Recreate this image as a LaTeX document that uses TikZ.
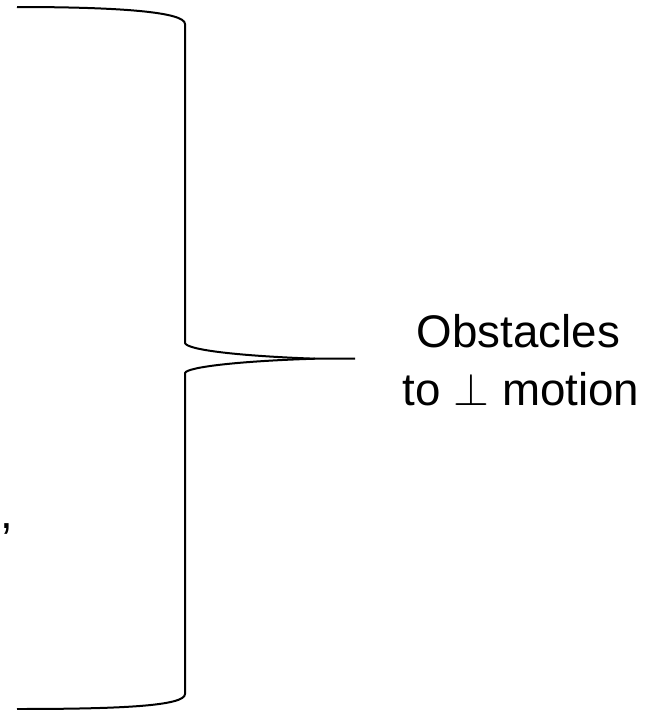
\documentclass[tikz,border=0pt]{standalone}
\usepackage{fontspec}
\setmainfont{Liberation Sans}
\begin{document}
\begin{tikzpicture}[x=1pt,y=-1pt,
  bracestyle/.style={line width=2pt, line join=round},
  lbl/.style={font=\fontsize{45.7}{58}\selectfont, inner sep=0pt, anchor=base}]
\useasboundingbox (0,0) rectangle (645,710);
\coordinate (topend) at (17,7);
\coordinate (topcorner) at (185,24);
\coordinate (upcorner) at (185,343);
\coordinate (meet) at (315,358.7);
\coordinate (tip) at (355,358.7);
\coordinate (lowcorner) at (185,373);
\coordinate (botcorner) at (185,694);
\coordinate (botend) at (17,709);
\draw[bracestyle] (topend) .. controls (120,7) and (185,12) .. (topcorner)
  -- (upcorner) .. controls (187,350) and (240,356) .. (meet) -- (tip);
\draw[bracestyle] (meet) .. controls (240,361) and (187,367) .. (lowcorner)
  -- (botcorner) .. controls (185,706) and (120,709) .. (botend);
\node[lbl] (l1) at (518.5,347) {Obstacles};
\node[lbl] (l2) at (521,405) {to \scalebox{1.85}{$\perp$} motion};
\node[lbl, anchor=base west] (comma) at (0,528) {,};
\end{tikzpicture}
\end{document}
